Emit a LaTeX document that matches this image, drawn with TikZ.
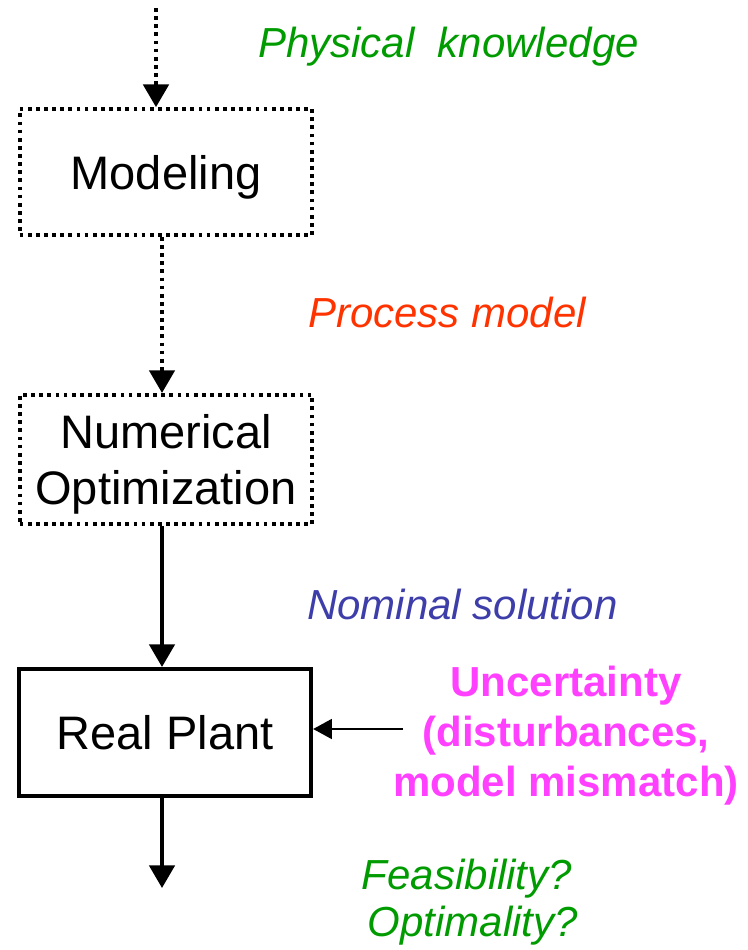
\documentclass[tikz,border=0pt]{standalone}
\usepackage{fontspec}
\setmainfont{Liberation Sans}
\usetikzlibrary{arrows.meta}
\definecolor{kgreen}{RGB}{0,155,0}
\definecolor{kred}{RGB}{255,51,0}
\definecolor{kblue}{RGB}{62,62,170}
\definecolor{kmag}{RGB}{255,64,255}
\begin{document}
\begin{tikzpicture}[x=0.75pt,y=-0.75pt,
  box/.style={draw, line width=2.8pt, minimum width=219.5pt, inner sep=0pt,
    font=\fontsize{35.25}{42}\selectfont, align=center, text depth=0pt},
  dotbox/.style={box, dash pattern=on 2.8pt off 3.3pt},
  mainarrow/.style={line width=2.8pt, -{Triangle[length=17pt,width=19pt]}},
  dotarrow/.style={mainarrow, dash pattern=on 2.8pt off 3.3pt},
  thinarrow/.style={line width=1.2pt, -{Triangle[length=14pt,width=15pt]}},
  lbl/.style={font=\fontsize{31.5}{37.5}\selectfont\itshape, inner sep=0pt},
]
\useasboundingbox (0,0) rectangle (747,950);
% boxes
\node[dotbox, minimum height=94.5pt] (m) at (166,172) {Modeling};
\node[dotbox, minimum height=97pt] (n) at (166,459.5) {Numerical\\Optimization};
\node[box, minimum height=95.5pt, text depth=] (rp) at (165,732.5) {Real Plant};
% coordinates
\coordinate (top) at (156,8);
\coordinate (ax) at (162,0);
\coordinate (out) at (162,888);
\coordinate (unc) at (403,729);
% connectors
\draw[dotarrow] (top) -- (top |- m.north);
\draw[dotarrow] (m.south -| ax) -- (n.north -| ax);
\draw[mainarrow] (n.south -| ax) -- (rp.north -| ax);
\draw[mainarrow] (rp.south -| ax) -- (out);
\draw[thinarrow] (unc) -- (unc -| rp.east);
% labels
\node[lbl, text=kgreen, anchor=base west] (pk) at (258,57) {Physical\ \ knowledge};
\node[lbl, text=kred, anchor=base west] (pm) at (308,327) {Process model};
\node[lbl, text=kblue, anchor=base west] (ns) at (307,619) {Nominal solution};
\node[font=\fontsize{31.5}{37.5}\selectfont\bfseries, text=kmag, align=center,
  inner sep=0pt, anchor=north] (u) at (566,666)
  {Uncertainty\\(disturbances,\\model mismatch)};
\node[font=\fontsize{31.5}{35.25}\selectfont\itshape, text=kgreen, align=center,
  inner sep=0pt, anchor=north] (fo) at (467,859)
  {Feasibility?\\ \ Optimality?};
\end{tikzpicture}
\end{document}
